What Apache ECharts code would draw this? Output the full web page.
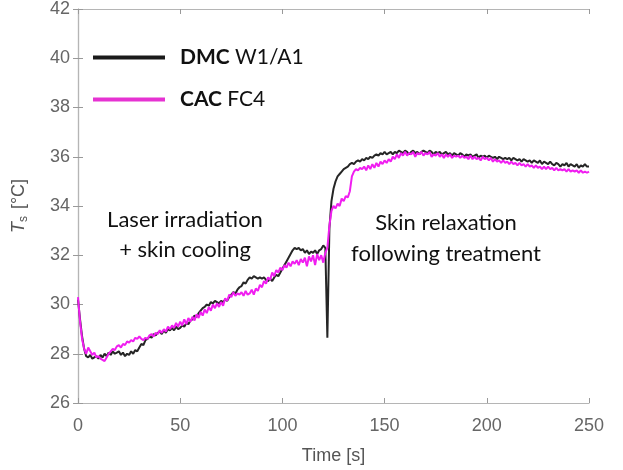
<!DOCTYPE html>
<html>
<head>
<meta charset="utf-8">
<script src="https://cdn.jsdelivr.net/npm/echarts@6/dist/echarts.min.js"></script>
<style>
html, body { margin: 0; background: #fff; }
#chart { width: 623px; height: 470px; }
</style>
</head>
<body>
<div id="chart"></div>
<script>
// skin temperature, one sample per second, t = 0..250 s
var dmc = [
    30.2, 29.4, 28.7, 28.2, 27.9, 27.85, 27.95, 27.8, 27.85, 27.9,
    27.8, 27.95, 27.85, 28.0, 27.9, 28.05, 27.95, 28.1, 28.0, 28.05,
    28.1, 27.95, 28.05, 27.9, 28.0, 27.95, 28.1, 28.0, 28.15, 28.1,
    28.25, 28.4, 28.35, 28.55, 28.6, 28.7, 28.65, 28.8, 28.75, 28.85,
    28.9, 28.8, 28.95, 28.85, 29.0, 28.95, 29.05, 28.95, 29.1, 29.0,
    29.05, 29.15, 29.1, 29.25, 29.2, 29.35, 29.4, 29.55, 29.5, 29.65,
    29.75, 29.85, 29.9, 30.0, 29.95, 30.1, 30.05, 30.15, 30.1, 30.05,
    30.15, 30.1, 30.2, 30.15, 30.3, 30.4, 30.5, 30.45, 30.6, 30.7,
    30.75, 30.9, 30.85, 31.0, 31.1, 31.05, 31.15, 31.1, 31.05, 31.1,
    31.05, 31.1, 31.0, 30.95, 31.05, 30.95, 31.1, 31.2, 31.15, 31.3,
    31.45, 31.6, 31.75, 31.9, 32.05, 32.2, 32.3, 32.25, 32.3, 32.2,
    32.25, 32.1, 32.2, 32.05, 32.15, 32.1, 32.2, 32.05, 32.2, 32.25,
    32.4, 32.3, 28.65, 33.1, 34.2, 34.7, 35.0, 35.2, 35.3, 35.4,
    35.5, 35.55, 35.6, 35.7, 35.75, 35.7, 35.8, 35.85, 35.8, 35.9,
    35.85, 35.95, 35.9, 36.0, 35.95, 36.05, 36.1, 36.05, 36.15, 36.1,
    36.2, 36.1, 36.15, 36.2, 36.1, 36.2, 36.15, 36.25, 36.2, 36.15,
    36.25, 36.2, 36.1, 36.2, 36.25, 36.15, 36.2, 36.1, 36.2, 36.25,
    36.2, 36.15, 36.25, 36.2, 36.1, 36.2, 36.15, 36.2, 36.1, 36.15,
    36.2, 36.1, 36.15, 36.05, 36.15, 36.1, 36.05, 36.15, 36.1, 36.0,
    36.1, 36.05, 36.1, 36.0, 36.05, 36.1, 35.95, 36.05, 36.0, 36.05,
    35.95, 36.05, 36.0, 35.95, 36.0, 35.9, 36.0, 35.95, 35.9, 35.95,
    35.9, 35.95, 35.85, 35.95, 35.9, 35.85, 35.9, 35.8, 35.9, 35.85,
    35.8, 35.85, 35.75, 35.85, 35.8, 35.75, 35.85, 35.7, 35.8, 35.75,
    35.7, 35.8, 35.7, 35.65, 35.75, 35.7, 35.6, 35.7, 35.65, 35.75,
    35.6, 35.7, 35.65, 35.6, 35.7, 35.55, 35.65, 35.6, 35.7, 35.6,
    35.6
];
var cac = [
    30.3, 29.3, 28.6, 28.2, 28.0, 28.25, 28.1, 27.95, 28.05, 27.85,
    27.9, 27.8, 27.75, 27.7, 27.85, 28.0, 28.1, 28.2, 28.15, 28.3,
    28.35, 28.25, 28.4, 28.35, 28.5, 28.45, 28.55, 28.5, 28.65, 28.6,
    28.7, 28.6, 28.55, 28.65, 28.6, 28.75, 28.8, 28.7, 28.85, 28.8,
    28.95, 28.85, 29.0, 28.9, 29.1, 29.0, 29.15, 29.05, 29.25, 29.1,
    29.3, 29.15, 29.4, 29.2, 29.45, 29.3, 29.5, 29.35, 29.6, 29.45,
    29.7, 29.55, 29.8, 29.65, 29.9, 29.75, 30.0, 29.85, 30.05, 29.9,
    30.1, 29.95, 30.25, 30.15, 30.4, 30.3, 30.5, 30.35, 30.45, 30.4,
    30.5, 30.35, 30.55, 30.4, 30.45, 30.6, 30.4, 30.65, 30.55, 30.8,
    30.7, 30.95, 30.85, 31.1, 31.0, 31.3, 31.15, 31.4, 31.3, 31.5,
    31.4, 31.6, 31.5, 31.7, 31.55, 31.75, 31.65, 31.8, 31.6, 31.85,
    31.7, 31.9, 31.55, 31.95, 31.75, 32.0, 31.6, 32.05, 31.8, 32.0,
    31.7, 32.1, 32.3, 33.2, 33.8, 34.0, 33.9, 34.1, 34.0, 34.3,
    34.2, 34.4, 34.35, 34.6, 35.2, 35.4, 35.5, 35.45, 35.55, 35.5,
    35.6, 35.45, 35.65, 35.5, 35.7, 35.55, 35.75, 35.6, 35.8, 35.7,
    35.85, 35.75, 35.9, 35.8, 36.0, 35.9, 36.1, 35.95, 36.15, 36.05,
    36.2, 36.05, 36.15, 36.1, 36.2, 36.0, 36.15, 36.1, 36.2, 36.05,
    36.15, 36.1, 36.2, 36.0, 36.1, 36.05, 36.15, 36.0, 36.1, 35.95,
    36.1, 36.0, 36.1, 35.95, 36.05, 36.0, 36.05, 35.95, 36.05, 35.95,
    36.0, 35.9, 36.05, 35.9, 36.0, 35.9, 35.95, 35.85, 36.0, 35.9,
    35.95, 35.85, 35.95, 35.8, 35.9, 35.8, 35.85, 35.75, 35.85, 35.75,
    35.8, 35.7, 35.8, 35.7, 35.75, 35.65, 35.75, 35.65, 35.7, 35.6,
    35.7, 35.6, 35.65, 35.55, 35.65, 35.55, 35.6, 35.5, 35.6, 35.5,
    35.6, 35.5, 35.55, 35.45, 35.55, 35.45, 35.5, 35.45, 35.5, 35.4,
    35.5, 35.4, 35.45, 35.4, 35.45, 35.35, 35.45, 35.35, 35.4, 35.35,
    35.4
];
var seriesNames = ["DMC W1/A1", "CAC FC4"];
var notes = [["Laser irradiation", "+ skin cooling"], ["Skin relaxation", "following treatment"]];

// index = time in seconds
function pairs(arr) {
    return arr.map(function (v, i) { return [i, v]; });
}

var frame = { show: true, lineStyle: { color: "#b5b5b5", width: 1.2 } };
var tick = { show: true, inside: true, length: 5, lineStyle: { color: "#999" } };
var labelFont = { color: "#666", fontSize: 18, fontFamily: "Liberation Sans" };
var noteStyle = { align: "center", verticalAlign: "middle", fontSize: 22, fontFamily: "Lato", fill: "#111" };

function note(text, x, y) {
    return { type: "text", x: x, y: y, style: Object.assign({ text: text }, noteStyle) };
}

var myChart = echarts.init(document.getElementById("chart"));
var option = {
    animation: false,
    grid: { left: 78, right: 34, top: 9, bottom: 65 },
    xAxis: [{
        type: "value", min: 0, max: 250, interval: 50,
        axisLine: frame, axisTick: tick, splitLine: { show: false },
        axisLabel: Object.assign({ margin: 14 }, labelFont),
        name: "Time [s]", nameLocation: "middle", nameGap: 44,
        nameTextStyle: { color: "#555", fontSize: 18, fontFamily: "Liberation Sans" }
    }, {
        type: "value", min: 0, max: 250, interval: 50, position: "top",
        axisLine: frame, axisTick: tick, splitLine: { show: false },
        axisLabel: { show: false }
    }],
    yAxis: [{
        type: "value", min: 26, max: 42, interval: 2,
        axisLine: frame, axisTick: tick, splitLine: { show: false },
        axisLabel: Object.assign({ margin: 8 }, labelFont),
        name: "{i|T}{s|s} [°C]", nameLocation: "middle", nameGap: 48,
        nameTextStyle: {
            color: "#555", fontSize: 18, fontFamily: "Liberation Sans",
            rich: {
                i: { fontStyle: "italic", fontSize: 18, color: "#555", fontFamily: "Liberation Sans" },
                s: { fontSize: 12, color: "#555", fontFamily: "Liberation Sans", padding: [10, 2, 0, 0] }
            }
        }
    }, {
        type: "value", min: 26, max: 42, interval: 2, position: "right",
        axisLine: frame, axisTick: tick, splitLine: { show: false },
        axisLabel: { show: false }
    }],
    legend: {
        orient: "vertical", left: 93, top: 47, padding: 0,
        itemWidth: 72, itemHeight: 4, itemGap: 21,
        icon: "rect", data: seriesNames,
        formatter: function (name) {
            let p = name.split(" ");
            return "{b|" + p[0] + "} " + p.slice(1).join(" ");
        },
        textStyle: {
            fontFamily: "Lato", fontSize: 21, color: "#111", padding: [0, 0, 0, 10],
            rich: { b: { fontFamily: "Lato", fontSize: 21, fontWeight: "bold", color: "#111" } }
        }
    },
    series: [{
        name: seriesNames[0], type: "line", data: pairs(dmc),
        showSymbol: false, color: "#1a1a1a",
        lineStyle: { width: 2, color: "#262626" }
    }, {
        name: seriesNames[1], type: "line", data: pairs(cac),
        showSymbol: false, color: "#e632d2",
        lineStyle: { width: 2, color: "#f01ef0" }
    }],
    graphic: [
        note(notes[0][0], 185, 220),
        note(notes[0][1], 185, 250),
        note(notes[1][0], 446, 223),
        note(notes[1][1], 446, 254)
    ]
};
myChart.setOption(option);
</script>
</body>
</html>
